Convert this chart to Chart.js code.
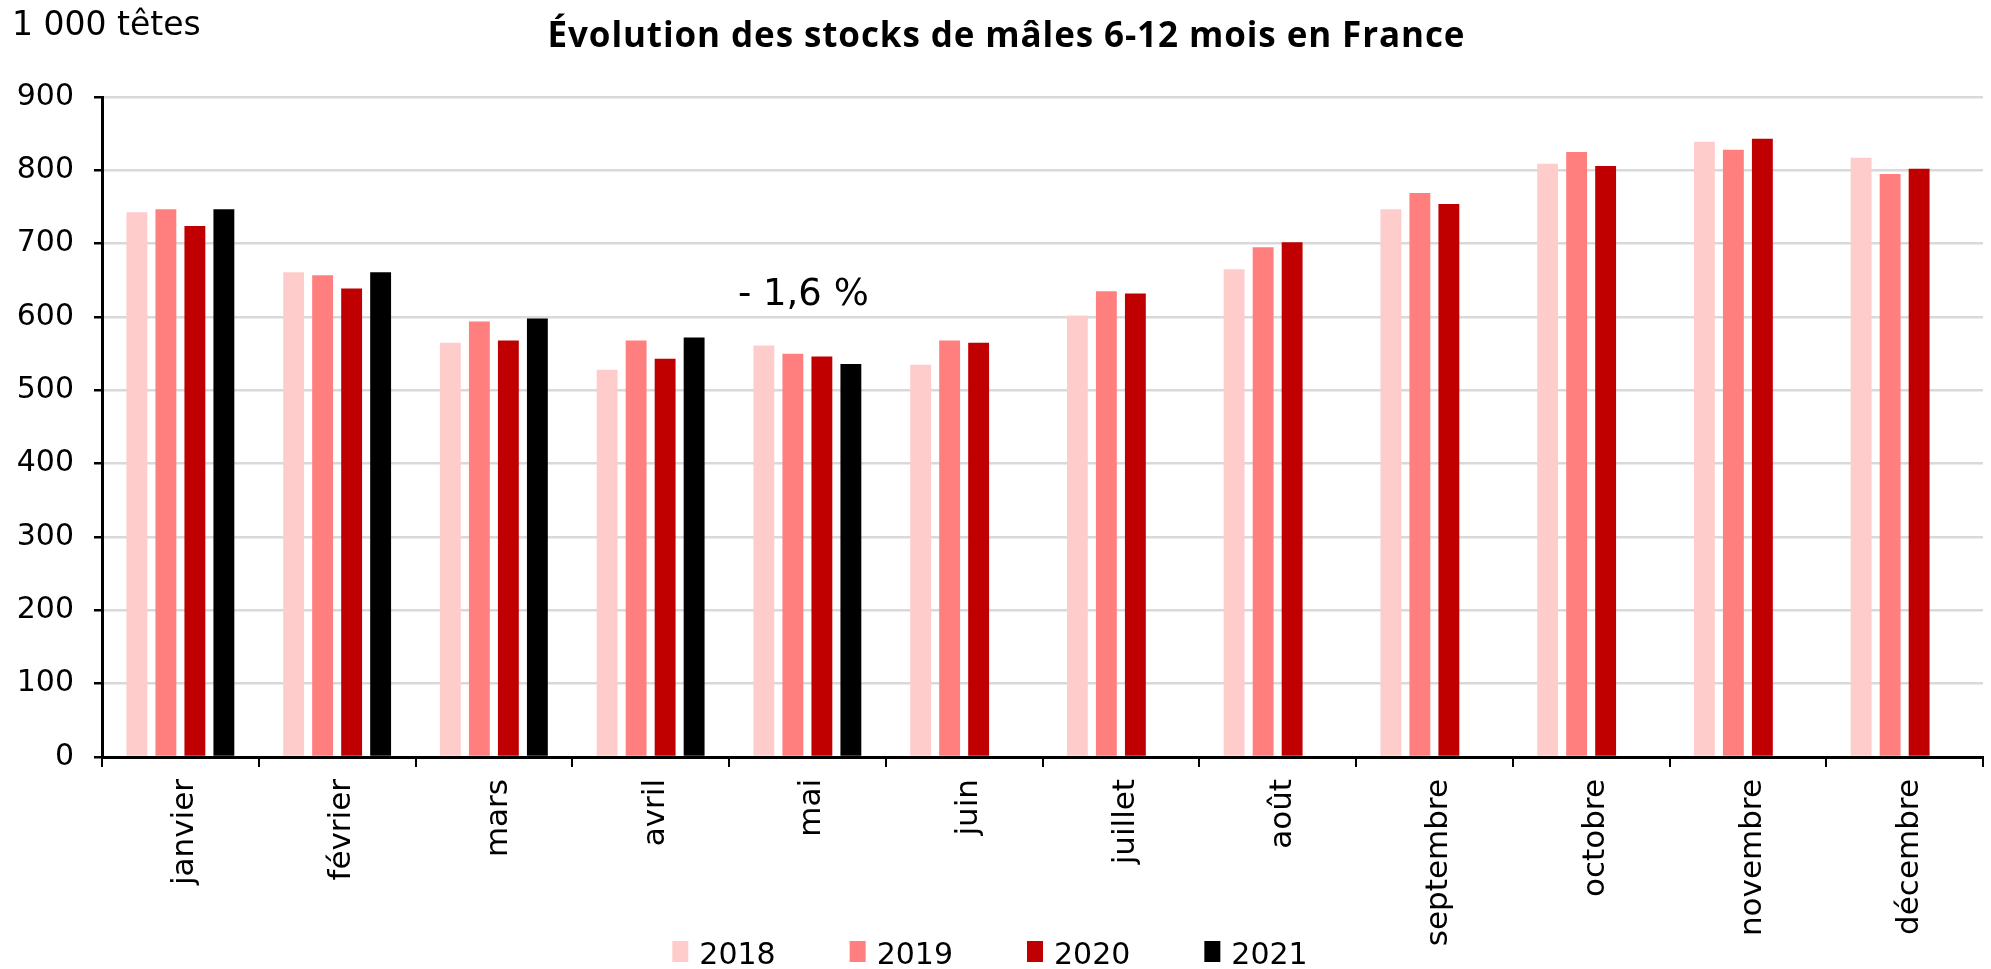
<!DOCTYPE html>
<html lang="fr">
<head>
<meta charset="utf-8">
<title>Évolution des stocks de mâles 6-12 mois en France</title>
<script src="https://cdn.jsdelivr.net/npm/chart.js@4/dist/chart.umd.min.js"></script>
<style>
  html, body { margin: 0; padding: 0; background: #fff; }
  #wrap { position: relative; width: 1991px; height: 969px; }
</style>
</head>
<body>
<div id="wrap"><canvas id="chart" width="1991" height="969"></canvas></div>
<script>
// data (1 000 têtes)
const months = ["janvier", "février", "mars", "avril", "mai", "juin",
  "juillet", "août", "septembre", "octobre", "novembre", "décembre"];
const years = ["2018", "2019", "2020", "2021"];
const yearColors = ["#ffcccc", "#ff7f7f", "#c00000", "#000000"];

const stocks2018 = [743, 661, 565, 528, 561, 535, 602, 665, 747, 809, 839, 817];
const stocks2019 = [747, 657, 594, 568, 550, 568, 635, 695, 769, 825, 828, 795];
const stocks2020 = [724, 639, 568, 543, 546, 565, 632, 702, 754, 806, 843, 802];
const stocks2021 = [747, 661, 598, 572, 536, null, null, null, null, null, null, null];

const yMin = 0;
const yMax = 900;
const yStep = 100;

const titleText = "Évolution des stocks de mâles 6-12 mois en France";
const unitText = "1 000 têtes";
const noteText = "- 1,6 %";
const noteMonth = "mai";
const noteValue = 617;

const FONT = "'DejaVu Sans', sans-serif";

// title, unit and note drawn on the canvas
const textPlugin = {
  id: "texts",
  afterDraw(chart) {
    const ctx = chart.ctx;
    const x = chart.scales.x;
    const y = chart.scales.y;
    ctx.save();
    ctx.fillStyle = "#000";
    ctx.textBaseline = "alphabetic";

    // title is wide in the original, spread letters to its width
    ctx.font = "bold 35px 'Open Sans', sans-serif";
    ctx.textAlign = "left";
    const titleW = 917;
    const plainW = ctx.measureText(titleText).width;
    if ("letterSpacing" in ctx && plainW < titleW) {
      ctx.letterSpacing = ((titleW - plainW) / (titleText.length - 1)).toFixed(2) + "px";
      ctx.fillText(titleText, 1006 - titleW / 2, 47);
      ctx.letterSpacing = "0px";
    } else {
      ctx.fillText(titleText, 1006 - plainW / 2, 47);
    }

    ctx.font = "33px " + FONT;
    ctx.fillText(unitText, 12, 35);

    ctx.font = "37px " + FONT;
    ctx.textAlign = "center";
    ctx.fillText(noteText, x.getPixelForValue(months.indexOf(noteMonth)) - 4,
      y.getPixelForValue(noteValue));
    ctx.restore();
  }
};

// legend with wide gaps like the original
const legendPlugin = {
  id: "yearLegend",
  afterDraw(chart) {
    const ctx = chart.ctx;
    const boxW = 16, boxH = 21, gap = 11, spacing = 74;
    ctx.save();
    ctx.font = "30px " + FONT;
    ctx.textBaseline = "alphabetic";
    ctx.textAlign = "left";
    const items = chart.data.datasets.map((ds) => ({
      label: ds.label,
      color: ds.backgroundColor,
      w: boxW + gap + ctx.measureText(ds.label).width
    }));
    const total = items.reduce((s, it) => s + it.w, 0) + spacing * (items.length - 1);
    let cx = 990 - total / 2;
    items.forEach((it) => {
      ctx.fillStyle = it.color;
      ctx.fillRect(cx, 941, boxW, boxH);
      ctx.fillStyle = "#000";
      ctx.fillText(it.label, cx + boxW + gap, 964);
      cx += it.w + spacing;
    });
    ctx.restore();
  }
};

const seriesValues = [stocks2018, stocks2019, stocks2020, stocks2021];

const chart = new Chart(document.getElementById("chart"), {
  type: "bar",
  data: {
    labels: months,
    datasets: years.map((yr, i) => ({
      label: yr,
      data: seriesValues[i],
      backgroundColor: yearColors[i],
      borderWidth: 0,
      categoryPercentage: 0.74,
      barPercentage: 0.72
    }))
  },
  options: {
    responsive: false,
    animation: false,
    maintainAspectRatio: false,
    devicePixelRatio: 1,
    layout: { padding: { top: 97, right: 8, bottom: 0, left: 0 } },
    plugins: {
      legend: { display: false },
      title: { display: false },
      tooltip: { enabled: false }
    },
    scales: {
      x: {
        afterFit: (scale) => { scale.height = 212; },
        grid: {
          display: true,
          drawOnChartArea: false,
          offset: true,
          color: "#000",
          tickColor: "#000",
          tickLength: 10,
          lineWidth: 2
        },
        border: { display: true, color: "#000", width: 3 },
        ticks: {
          color: "#000",
          font: { family: FONT, size: 31 },
          minRotation: 90,
          maxRotation: 90,
          padding: 12,
          labelOffset: 5,
          autoSkip: false
        }
      },
      y: {
        min: yMin,
        max: yMax,
        afterFit: (scale) => { scale.width = 102; },
        grid: {
          color: (c) => (c.tick && c.tick.value === 0 ? "#000" : "#d9d9d9"),
          lineWidth: 2.5,
          tickColor: "#000",
          tickLength: 8
        },
        border: { display: true, color: "#000", width: 3 },
        ticks: {
          stepSize: yStep,
          color: "#000",
          font: { family: FONT, size: 30 },
          padding: 20
        }
      }
    }
  },
  plugins: [textPlugin, legendPlugin]
});
</script>
</body>
</html>
